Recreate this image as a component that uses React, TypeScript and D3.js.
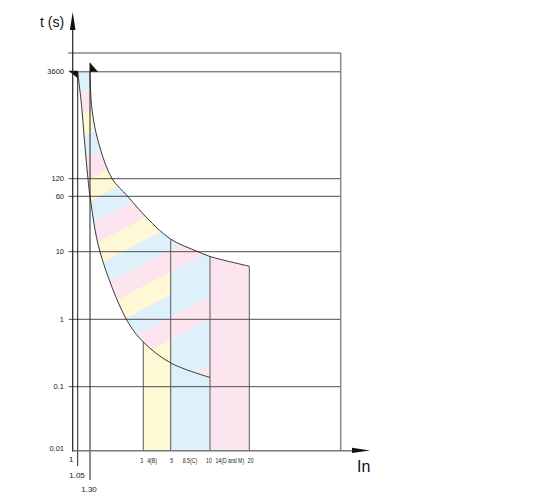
import React from "react";
import * as d3 from "d3";

// ---------- data ----------
const yTickValues = [3600, 120, 60, 10, 1, 0.1, 0.01];
const yTickLabels = ["3600", "120", "60", "10", "1", "0.1", "0.01"];

const xLowValues = [1, 1.05, 1.3];
const xLowLabels = ["1", "1.05", "1.30"];

const xBandTickValues = [3, 4, 5, 8.5, 10, 14, 20];
const xBandTickLabels = ["3", "4(B)", "5", "8.5(C)", "10", "14(D and M)", "20"];

// lower (fast) trip boundary: multiples of In vs time (s)
const lowerIn = [1.05, 1.125, 1.18, 1.255, 1.3, 1.52, 2.3, 3, 5, 10];
const lowerT = [3600, 1180, 410, 120, 60, 10, 1, 0.46, 0.225, 0.137];

// upper (slow) trip boundary
const upperIn = [1.3, 1.335, 1.47, 1.84, 2.35, 3.2, 5, 8.1, 10, 20];
const upperT = [3600, 1180, 410, 120, 60, 30, 15, 10, 8.5, 6.1];

// instantaneous-trip bands
const bandFrom = [3, 5, 10];
const bandTo = [5, 10, 20];
const bandColors = ["#fff8d5", "#def1fb", "#fde5ef"];

const bandEdgeIn = [3, 5, 10, 20];
const bandEdgeCurve = ["lower", "upper", "upper", "upper"];

// ---------- layout ----------
const W = 550;
const H = 498;
const axisX = 72.7;
const axisY = 450.7;
const frameRight = 340.7;
const frameTop = 53;
const gridLeft = 68.7;
const smallFont = "'Liberation Sans', Arial, sans-serif";
const bandLabelDx = [-1.6, -6.7, 1, -10.8, -1, 0.7, 1.4];
const bandLabelSquash = 0.74;
const lowLabelBaseline = [462, 478, 491.7];
const lowLabelDx = [-1.4, -0.7, -1];
const lowLineEnd = [axisY, 466, 480];

const X = d3
  .scaleLog()
  .domain([1, 1.05, 1.3, 3, 5, 10, 20])
  .range([axisX, 77.7, 90, 143.3, 170.7, 210, 249.3]);
const Y = d3
  .scaleLog()
  .domain([0.01, 0.1, 1, 10, 60, 120, 3600])
  .range([axisY, 386.7, 319.3, 251.7, 196.3, 178.7, 71.8]);

const pink = "#fde5ef";
const yellow = "#fff8d5";
const blue = "#def1fb";

export default function App() {
  const upperPts: [number, number][] = upperIn.map((v, i) => [X(v), Y(upperT[i])]);
  const lowerPts: [number, number][] = lowerIn.map((v, i) => [X(v), Y(lowerT[i])]);
  const curve = d3.curveCatmullRom.alpha(0.5);
  const line = d3.line().curve(curve);
  const upperPath = line(upperPts) as string;
  const lowerPath = line(lowerPts) as string;
  const lowerRev = (line(lowerPts.slice().reverse()) as string).slice(1);
  const stripeRegion = `${upperPath}L${X(20)},${axisY}L${lowerRev}Z`;
  const area = d3
    .area<[number, number]>()
    .x((d) => d[0])
    .y0(axisY)
    .y1((d) => d[1])
    .curve(curve);
  const underUpper = area(upperPts) as string;

  const y3600 = Y(3600);

  const edgeTop = (v: number, which: string) => {
    if (which === "lower") return Y(lowerT[lowerIn.indexOf(v)]);
    return Y(upperT[upperIn.indexOf(v)]);
  };

  return (
    <svg
      width={W}
      height={H}
      style={{ position: "absolute", left: 0, top: 0, background: "#fff" }}
    >
      <defs>
        <pattern
          id="stripesA"
          patternUnits="userSpaceOnUse"
          width={60}
          height={60}
          patternTransform="rotate(-28)"
        >
          <rect x={0} y={0} width={60} height={20} fill={pink} />
          <rect x={0} y={20} width={60} height={20} fill={yellow} />
          <rect x={0} y={40} width={60} height={20} fill={blue} />
        </pattern>
        <pattern
          id="stripesB"
          patternUnits="userSpaceOnUse"
          width={60}
          height={60}
          patternTransform="rotate(-28)"
        >
          <rect x={0} y={0} width={60} height={20} fill={pink} />
          <rect x={0} y={20} width={60} height={40} fill={blue} />
        </pattern>
        {bandFrom.map((v, i) => (
          <clipPath id={`band${i}`} key={i}>
            <rect x={X(v)} y={0} width={X(bandTo[i]) - X(v)} height={axisY} />
          </clipPath>
        ))}
        <clipPath id="stripeLeft">
          <rect x={0} y={0} width={X(5)} height={H} />
        </clipPath>
        <clipPath id="stripeRight">
          <rect x={X(5)} y={0} width={X(10) - X(5)} height={H} />
        </clipPath>
      </defs>

      {/* band fills */}
      {bandFrom.map((v, i) => (
        <path key={i} d={underUpper} fill={bandColors[i]} clipPath={`url(#band${i})`} />
      ))}

      {/* striped region between curves */}
      <path d={stripeRegion} fill="url(#stripesA)" clipPath="url(#stripeLeft)" />
      <path d={stripeRegion} fill="url(#stripesB)" clipPath="url(#stripeRight)" />

      {/* horizontal grid lines */}
      <line x1={gridLeft - 0.5} x2={frameRight} y1={frameTop} y2={frameTop} stroke="#4d4d4d" strokeWidth={1} />
      {yTickValues.slice(0, -1).map((v) => (
        <line key={v} x1={gridLeft} x2={frameRight} y1={Y(v)} y2={Y(v)} stroke="#4d4d4d" strokeWidth={1} />
      ))}

      {/* right frame */}
      <line x1={frameRight} x2={frameRight} y1={frameTop} y2={axisY} stroke="#8a8a8a" strokeWidth={1.5} />

      {/* band edges */}
      {bandEdgeIn.map((v, i) => (
        <line
          key={v}
          x1={X(v)}
          x2={X(v)}
          y1={edgeTop(v, bandEdgeCurve[i])}
          y2={axisY}
          stroke="#5a5a5a"
          strokeWidth={1}
        />
      ))}

      {/* low multiples vertical lines */}
      <line x1={X(1.05)} x2={X(1.05)} y1={y3600} y2={lowLineEnd[1]} stroke="#222" strokeWidth={1} />
      <line x1={X(1.3)} x2={X(1.3)} y1={y3600 - 9} y2={lowLineEnd[2]} stroke="#222" strokeWidth={1} />

      {/* curves */}
      <path d={upperPath} fill="none" stroke="#222" strokeWidth={0.9} />
      <path d={lowerPath} fill="none" stroke="#222" strokeWidth={0.9} />

      {/* start markers */}
      <polygon
        points={`${gridLeft},${y3600 - 1} ${X(1.05)},${y3600 - 1} ${X(1.05)},${y3600 + 6.5}`}
        fill="#111"
      />
      <polygon
        points={`${X(1.3)},${y3600 - 9} ${X(1.3) + 8},${y3600} ${X(1.3)},${y3600}`}
        fill="#111"
      />

      {/* axes */}
      <line x1={axisX} x2={axisX} y1={28} y2={axisY + 1} stroke="#222" strokeWidth={1.2} />
      <polygon points={`${axisX},12 ${axisX - 2.8},30 ${axisX + 2.8},30`} fill="#111" />
      <line x1={axisX} x2={353} y1={axisY} y2={axisY} stroke="#777" strokeWidth={1.5} />
      <polygon points={`352,447.8 370,${axisY - 0.3} 352,453`} fill="#111" />

      {/* axis titles */}
      <text x={40} y={27} fontFamily="'Liberation Sans', Arial, sans-serif" fontSize={14} fill="#111">
        t (s)
      </text>
      <text x={357} y={472} fontFamily="'Liberation Sans', Arial, sans-serif" fontSize={16} fill="#111">
        In
      </text>

      {/* y tick labels */}
      {yTickValues.map((v, i) => (
        <text
          key={v}
          x={64}
          y={Y(v) + (v === 0.01 ? -2.7 : 0)}
          dy="0.35em"
          textAnchor="end"
          fontFamily={smallFont}
          fontSize={7.5}
          fill="#222"
        >
          {yTickLabels[i]}
        </text>
      ))}

      {/* x tick labels */}
      {xLowValues.map((v, i) => (
        <text
          key={v}
          x={X(v) + lowLabelDx[i]}
          y={lowLabelBaseline[i]}
          textAnchor="middle"
          fontFamily={smallFont}
          fontSize={8}
          fill="#222"
        >
          {xLowLabels[i]}
        </text>
      ))}
      {xBandTickValues.map((v, i) => (
        <text
          key={v}
          transform={`translate(${X(v) + bandLabelDx[i]},463) scale(${bandLabelSquash},1)`}
          textAnchor="middle"
          fontFamily={smallFont}
          fontSize={7}
          fill="#222"
        >
          {xBandTickLabels[i]}
        </text>
      ))}
    </svg>
  );
}
